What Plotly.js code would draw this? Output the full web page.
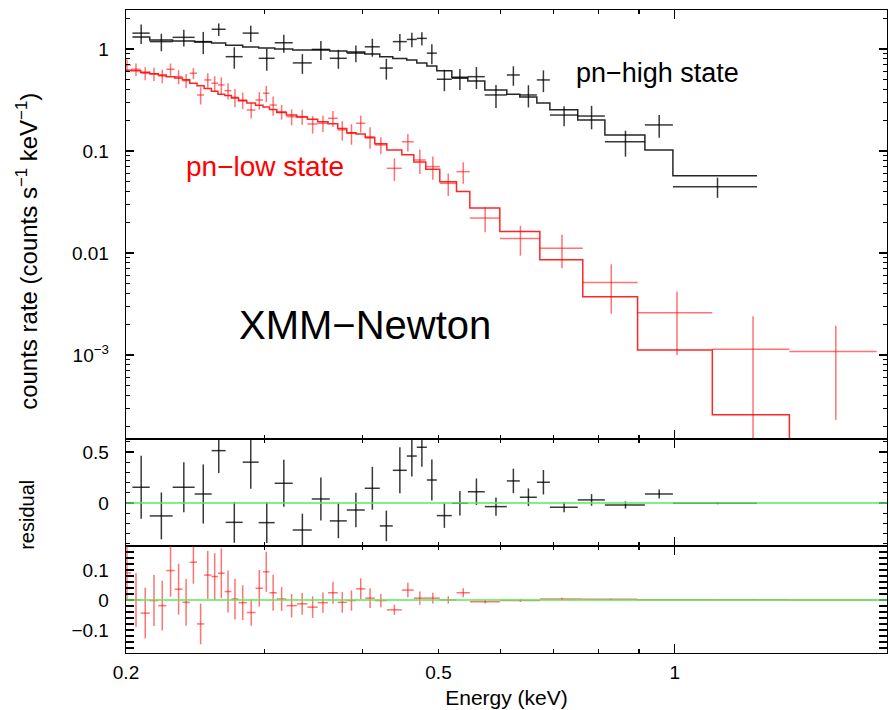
<!DOCTYPE html>
<html>
<head>
<meta charset="utf-8">
<script src="https://cdn.plot.ly/plotly-3.0.1.min.js"></script>
<style>html,body{margin:0;padding:0;background:#fff;}#chart{width:889px;height:710px;}</style>
</head>
<body>
<div id="chart"></div>
<script>
// ---------------- data: pn-high state (black) ----------------
const hiEdges = [0.2038, 0.2144, 0.2293, 0.2446, 0.2571, 0.2679, 0.2816, 0.2951, 0.3093, 0.3261, 0.3448, 0.3635, 0.3821, 0.4028, 0.4209, 0.4373, 0.4556, 0.4692, 0.4832, 0.4975, 0.5199, 0.5449, 0.5727, 0.6109, 0.6346, 0.6671, 0.6931, 0.7521, 0.8144, 0.9158, 0.9942, 1.272];
const hiRate = [1.43, 1.18, 1.30, 1.18, 1.56, 0.84, 1.43, 0.81, 1.15, 0.73, 0.99, 0.81, 0.91, 1.05, 0.65, 1.18, 1.24, 1.27, 0.91, 0.505, 0.516, 0.535, 0.354, 0.556, 0.354, 0.497, 0.225, 0.220, 0.123, 0.18, 0.0447];
const hiErr = [0.31, 0.23, 0.245, 0.29, 0.22, 0.20, 0.26, 0.20, 0.23, 0.16, 0.21, 0.17, 0.17, 0.21, 0.15, 0.225, 0.20, 0.19, 0.20, 0.12, 0.12, 0.13, 0.09, 0.12, 0.087, 0.12, 0.05, 0.057, 0.035, 0.045, 0.01];
const hiModel = [1.31, 1.225, 1.20, 1.17, 1.145, 1.09, 1.046, 1.023, 1.0, 0.978, 0.978, 0.956, 0.935, 0.893, 0.84, 0.807, 0.78, 0.73, 0.68, 0.613, 0.528, 0.486, 0.396, 0.36, 0.338, 0.296, 0.253, 0.201, 0.143, 0.102, 0.057];
const hiResid = [0.154, -0.127, 0.154, 0.088, 0.513, -0.19, 0.40, -0.193, 0.193, -0.265, 0.039, -0.176, -0.069, 0.144, -0.225, 0.32, 0.46, 0.546, 0.225, -0.124, -0.003, 0.11, -0.036, 0.216, 0.056, 0.203, -0.042, 0.03, -0.02, 0.088, -0.003];

// ---------------- data: pn-low state (red) ----------------
const loEdges = [0.198, 0.2031, 0.2088, 0.2144, 0.2198, 0.2251, 0.2307, 0.2360, 0.2411, 0.2463, 0.2515, 0.2569, 0.2619, 0.2671, 0.2724, 0.2782, 0.2850, 0.2924, 0.2989, 0.3046, 0.3112, 0.3201, 0.3300, 0.3405, 0.3509, 0.3617, 0.3721, 0.3821, 0.3927, 0.4034, 0.4148, 0.4297, 0.4490, 0.4651, 0.4817, 0.5019, 0.5271, 0.5481, 0.5985, 0.6730, 0.7633, 0.8964, 1.116, 1.399, 1.807];
const loRate = [0.697, 0.632, 0.578, 0.569, 0.544, 0.632, 0.535, 0.489, 0.578, 0.354, 0.497, 0.461, 0.444, 0.390, 0.336, 0.316, 0.252, 0.316, 0.368, 0.282, 0.243, 0.217, 0.217, 0.184, 0.187, 0.209, 0.161, 0.149, 0.187, 0.138, 0.1146, 0.0676, 0.123, 0.0816, 0.0702, 0.0482, 0.0627, 0.0220, 0.0139, 0.0111, 0.00514, 0.0026, 0.00114, 0.00108];
const loErr = [0.09, 0.09, 0.085, 0.085, 0.083, 0.087, 0.085, 0.078, 0.072, 0.068, 0.08, 0.078, 0.083, 0.07, 0.068, 0.058, 0.044, 0.061, 0.067, 0.06, 0.04, 0.039, 0.036, 0.036, 0.034, 0.037, 0.035, 0.034, 0.035, 0.033, 0.022, 0.017, 0.024, 0.022, 0.018, 0.012, 0.015, 0.006, 0.0045, 0.004, 0.0026, 0.0016, 0.00125, 0.00085];
const loModel = [0.62, 0.61, 0.59, 0.57, 0.555, 0.535, 0.52, 0.50, 0.46, 0.435, 0.41, 0.385, 0.36, 0.35, 0.33, 0.31, 0.295, 0.28, 0.27, 0.255, 0.238, 0.225, 0.215, 0.205, 0.193, 0.185, 0.166, 0.151, 0.147, 0.135, 0.118, 0.102, 0.092, 0.078, 0.066, 0.05, 0.04, 0.0276, 0.0162, 0.0086, 0.00373, 0.00112, 0.000259, 0.00008];
const loResid = [0.09, 0.0, -0.044, -0.002, -0.019, 0.098, 0.036, -0.008, 0.126, -0.08, 0.083, 0.078, 0.089, 0.028, 0.003, -0.009, -0.042, 0.039, 0.094, 0.024, 0.003, -0.019, -0.013, -0.024, -0.009, 0.024, -0.008, -0.002, 0.037, 0.006, -0.002, -0.033, 0.033, 0.006, 0.006, 0.0, 0.024, -0.006, -0.002, 0.003, 0.002, 0.001, 0.001, 0.0];

// ---------------- tick labels ----------------
const xMajorVals = [1];
const xLabelVals = [0.2, 0.5, 1];
const xLabelText = ['0.2', '0.5', '1'];
const y1Vals = [0.001, 0.01, 0.1, 1];
const y1Text = ['10<sup>−3</sup>', '0.01', '0.1', '1'];
const y2Vals = [0, 0.5];
const y2Text = ['0', '0.5'];
const y3Vals = [-0.1, 0, 0.1];
const y3Text = ['−0.1', '0', '0.1'];

// ---------------- derived geometry from bins ----------------
function centers(ed){ const c=[]; for(let i=0;i<ed.length-1;i++) c.push((ed[i]+ed[i+1])/2); return c; }
function halfw(ed){ const c=[]; for(let i=0;i<ed.length-1;i++) c.push((ed[i+1]-ed[i])/2); return c; }
const hiE = centers(hiEdges), hiDE = halfw(hiEdges);
const loE = centers(loEdges), loDE = halfw(loEdges);

const BLK = 'rgba(0,0,0,0.78)';
const RED = 'rgba(255,0,0,0.55)';
const REDL = 'rgba(255,0,0,0.85)';

function cross(x, dx, y, dy, color, xa, ya){
  return {type:'scatter', mode:'markers', x:x, y:y, xaxis:xa, yaxis:ya,
    marker:{size:0, color:'rgba(0,0,0,0)'}, hoverinfo:'skip',
    error_x:{type:'data', array:dx, visible:true, width:0, thickness:1.5, color:color},
    error_y:{type:'data', array:dy, visible:true, width:0, thickness:1.5, color:color}};
}
function step(ed, m, color){
  return {type:'scatter', mode:'lines', x:ed, y:m.concat([m[m.length-1]]), xaxis:'x', yaxis:'y',
    line:{shape:'hv', color:color, width:1.5}, hoverinfo:'skip'};
}

const data = [
  step(hiEdges, hiModel, 'rgba(0,0,0,0.85)'),
  step(loEdges, loModel, REDL),
  cross(hiE, hiDE, hiRate, hiErr, BLK, 'x', 'y'),
  cross(loE, loDE, loRate, loErr, RED, 'x', 'y'),
  cross(hiE, hiDE, hiResid, hiErr, BLK, 'x2', 'y2'),
  cross(loE, loDE, loResid, loErr, RED, 'x3', 'y3'),
  {type:'scatter', x:[], y:[], xaxis:'x4', yaxis:'y3', hoverinfo:'skip'}
];

// minor tick positions (axis decoration)
const xMinor = [0.2,0.3,0.4,0.5,0.6,0.7,0.8,0.9,2];
const y1Minor = [];
for (let p=-4; p<=0; p++) for (let k=2;k<=9;k++) y1Minor.push(k*Math.pow(10,p));

const FONT = 'Liberation Sans, Arial, Helvetica, sans-serif';
const tf = {family:FONT, size:19, color:'black'};
const XR = [Math.log10(0.2), 0.2701];

function xax(anchor){
  return {type:'log', range:XR, anchor:anchor, domain:[0,1],
    tickmode:'array', tickvals:xMajorVals, ticktext:[''], showticklabels:false,
    ticks:'inside', ticklen:9, tickwidth:1.2, tickcolor:'black',
    minor:{tickmode:'array', tickvals:xMinor, ticks:'inside', ticklen:4, tickwidth:1.2, tickcolor:'black'},
    showline:true, mirror:'allticks', linecolor:'black', linewidth:1.3,
    showgrid:false, zeroline:false};
}

const layout = {
  width:889, height:710,
  margin:{l:126, r:2, t:10, b:57},
  paper_bgcolor:'white', plot_bgcolor:'white',
  showlegend:false,
  font:{family:FONT, color:'black'},
  xaxis: xax('y'),
  xaxis2: xax('y2'),
  xaxis3: xax('y3'),
  xaxis4: {type:'log', range:XR, overlaying:'x3', anchor:'y3', tickmode:'array', tickvals:xLabelVals, ticktext:xLabelText,
    ticks:'', showline:false, showgrid:false, zeroline:false, tickfont:tf, ticklabelstandoff:6,
    title:{text:'Energy (keV)', font:{family:FONT, size:21, color:'black'}, standoff:8}},
  yaxis: {type:'log', domain:[0.3328,1], range:[-3.824, 0.382], anchor:'x',
    tickmode:'array', tickvals:y1Vals, ticktext:y1Text,
    ticks:'inside', ticklen:8, tickwidth:1.2, tickcolor:'black',
    minor:{tickmode:'array', tickvals:y1Minor, ticks:'inside', ticklen:4, tickwidth:1.2, tickcolor:'black'},
    showline:true, mirror:'allticks', linecolor:'black', linewidth:1.3,
    showgrid:false, zeroline:false, tickfont:tf, ticklabelstandoff:12},
  yaxis2: {domain:[0.1664,0.3328], range:[-0.422, 0.627], anchor:'x2',
    tickmode:'array', tickvals:y2Vals, ticktext:y2Text,
    ticks:'inside', ticklen:8, tickwidth:1.2, tickcolor:'black',
    minor:{dtick:0.1, ticks:'inside', ticklen:4, tickwidth:1.2, tickcolor:'black'},
    showline:true, mirror:'allticks', linecolor:'black', linewidth:1.3,
    showgrid:false, zeroline:false, tickfont:tf, ticklabelstandoff:12},
  yaxis3: {domain:[0,0.1664], range:[-0.177, 0.18], anchor:'x3',
    tickmode:'array', tickvals:y3Vals, ticktext:y3Text,
    ticks:'inside', ticklen:8, tickwidth:1.2, tickcolor:'black',
    minor:{dtick:0.02, ticks:'inside', ticklen:4, tickwidth:1.2, tickcolor:'black'},
    showline:true, mirror:'allticks', linecolor:'black', linewidth:1.3,
    showgrid:false, zeroline:false, tickfont:tf, ticklabelstandoff:12},
  shapes: [
    {type:'line', xref:'paper', x0:0, x1:1, yref:'y2', y0:0, y1:0, line:{color:'rgb(90,235,90)', width:1.5}},
    {type:'line', xref:'paper', x0:0, x1:1, yref:'y3', y0:0, y1:0, line:{color:'rgb(90,235,90)', width:1.5}}
  ],
  annotations: [
    {xref:'paper', yref:'paper', x:-0.130, y:0.624, xanchor:'center', yanchor:'middle', text:'counts rate (counts s<sup>−1</sup> keV<sup>−1</sup>)', textangle:-90, showarrow:false, font:{family:FONT, size:24, color:'black'}},
    {xref:'paper', yref:'paper', x:-0.130, y:0.215, xanchor:'center', yanchor:'middle', text:'residual', textangle:-90, showarrow:false, font:{family:FONT, size:20, color:'black'}},
    {xref:'paper', yref:'paper', x:0.698, y:0.902, xanchor:'center', yanchor:'middle', text:'pn−high state', showarrow:false, font:{family:FONT, size:27, color:'black'}},
    {xref:'paper', yref:'paper', x:0.183, y:0.756, xanchor:'center', yanchor:'middle', text:'pn−low state', showarrow:false, font:{family:FONT, size:28, color:'red'}},
    {xref:'paper', yref:'paper', x:0.314, y:0.510, xanchor:'center', yanchor:'middle', text:'XMM−Newton', showarrow:false, font:{family:FONT, size:40, color:'black'}}
  ]
};

Plotly.newPlot('chart', data, layout, {displayModeBar:false, staticPlot:true});
</script>
</body>
</html>
